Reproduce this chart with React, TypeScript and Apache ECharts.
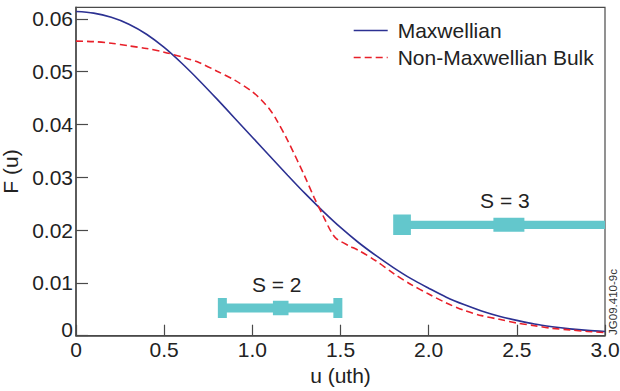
import React, { useEffect, useRef } from 'react';
import * as echarts from 'echarts';

// ---------- data ----------
const maxwellU = [0, 0.1, 0.2, 0.3, 0.4, 0.5, 0.6, 0.7, 0.8, 0.9, 1.0, 1.1, 1.2, 1.3, 1.4, 1.5, 1.6, 1.7, 1.8, 1.9, 2.0, 2.1, 2.2, 2.3, 2.4, 2.5, 2.6, 2.7, 2.8, 2.9, 3.0];
const maxwellF = [0.0614, 0.0611, 0.0603, 0.059, 0.0571, 0.0546, 0.0516, 0.0483, 0.0448, 0.0412, 0.0376, 0.034, 0.0304, 0.0269, 0.0236, 0.0205, 0.0177, 0.0152, 0.0129, 0.0108, 0.009, 0.0073, 0.0059, 0.0047, 0.0037, 0.0029, 0.0022, 0.0017, 0.0013, 0.001, 0.0008];

const bulkU = [0, 0.1, 0.2, 0.3, 0.4, 0.5, 0.6, 0.7, 0.8, 0.9, 1.0, 1.05, 1.1, 1.13, 1.2, 1.3, 1.35, 1.4, 1.45, 1.48, 1.55, 1.6, 1.7, 1.8, 1.9, 2.0, 2.1, 2.2, 2.3, 2.4, 2.5, 2.6, 2.7, 2.8, 2.9, 3.0];
const bulkF = [0.0558, 0.0557, 0.0554, 0.0549, 0.0544, 0.0537, 0.0528, 0.0517, 0.0501, 0.0484, 0.0462, 0.0447, 0.0428, 0.0413, 0.037, 0.03, 0.0262, 0.0228, 0.0195, 0.0183, 0.017, 0.0162, 0.0142, 0.0118, 0.0097, 0.0079, 0.0062, 0.0048, 0.0038, 0.0031, 0.0024, 0.0019, 0.0014, 0.0011, 0.0008, 0.0006];

const errCenters = [1.161, 2.455];
const errValues = [0.00525, 0.021];
const errLow = [0.83, 1.849];
const errHigh = [1.485, 3.06];
const errLabels = ['S = 2', 'S = 3'];

const xTickLabels = ['0', '0.5', '1.0', '1.5', '2.0', '2.5', '3.0'];
const yTickLabels = ['0', '0.01', '0.02', '0.03', '0.04', '0.05', '0.06'];

const seriesNames = ['Maxwellian', 'Non-Maxwellian Bulk'];

// ---------- styles ----------
const FONT = '"Liberation Sans", Arial, Helvetica, sans-serif';
const TEAL = '#63c7cc';
const AXIS = '#4a4a4a';
const errStyles = [
  { cap: 9, capH: 20, bar: 9, barDy: 0, midW: 15.6, midH: 14.7, labelDx: -4, labelDy: -23 },
  { cap: 17.7, capH: 20.5, bar: 8.3, barDy: 0, midW: 31, midH: 14, labelDx: -4, labelDy: -24.5 },
];

export default function App() {
  const ref = useRef<HTMLDivElement>(null);

  useEffect(() => {
    if (!ref.current) return;
    const chart = echarts.init(ref.current, undefined, { renderer: 'svg' });

    const option: any = {
      animation: false,
      backgroundColor: '#ffffff',
      textStyle: { fontFamily: FONT },
      grid: {
        left: 76,
        right: 15,
        top: 7.3,
        bottom: 55.3,
        containLabel: false,
        outerBoundsMode: 'none',
        show: true,
        borderColor: AXIS,
        borderWidth: 1.2,
        backgroundColor: 'transparent',
      },
      legend: {
        orient: 'vertical',
        left: 353,
        top: 20,
        padding: 0,
        itemWidth: 34,
        itemHeight: 14,
        itemGap: 6,
        data: seriesNames,
        itemStyle: { opacity: 0 },
        lineStyle: { width: 1.4 },
        textStyle: { fontSize: 21, lineHeight: 21, color: '#222', fontFamily: FONT, padding: [0, 0, 0, 5] },
      },
      xAxis: {
        type: 'value',
        min: 0,
        max: 3,
        interval: 0.5,
        name: 'u (uth)',
        nameLocation: 'middle',
        nameGap: 27,
        nameTextStyle: { fontSize: 21, color: '#222', fontFamily: FONT },
        axisLine: { show: true, lineStyle: { color: AXIS, width: 1.5 } },
        axisTick: { show: true, inside: true, length: 11, lineStyle: { color: AXIS, width: 1.2 } },
        axisLabel: {
          fontSize: 21,
          color: '#222',
          margin: 3,
          fontFamily: FONT,
          formatter: (v: number) => xTickLabels[Math.round(v / 0.5)] ?? '',
        },
        splitLine: { show: false },
      },
      yAxis: {
        type: 'value',
        min: 0,
        max: 0.0622,
        interval: 0.01,
        name: 'F (u)',
        nameLocation: 'middle',
        nameGap: 53,
        nameTextStyle: { fontSize: 21, color: '#222', fontFamily: FONT },
        axisLine: { show: true, lineStyle: { color: AXIS, width: 1.5 } },
        axisTick: { show: true, inside: true, length: 12, lineStyle: { color: AXIS, width: 1.2 } },
        axisLabel: {
          fontSize: 21,
          color: '#222',
          margin: 3,
          fontFamily: FONT,
          showMaxLabel: false,
          rich: {
            z: { fontSize: 21, color: '#222', fontFamily: FONT, padding: [0, 0, 12, 0] },
          },
          formatter: (v: number) => {
            const k = Math.round(v / 0.01);
            if (Math.abs(v - k * 0.01) > 1e-6) return '';
            const t = yTickLabels[k] ?? '';
            return k === 0 ? '{z|' + t + '}' : t;
          },
        },
        splitLine: { show: false },
      },
      series: [
        {
          name: seriesNames[0],
          type: 'line',
          symbol: 'none',
          smooth: 0.3,
          data: maxwellU.map((u, i) => [u, maxwellF[i]]),
          lineStyle: { color: '#2c3192', width: 1.6 },
          itemStyle: { color: '#2c3192' },
          z: 3,
        },
        {
          name: seriesNames[1],
          type: 'line',
          symbol: 'none',
          smooth: 0.3,
          data: bulkU.map((u, i) => [u, bulkF[i]]),
          lineStyle: { color: '#e8202a', width: 1.6, type: [7, 4] },
          itemStyle: { color: '#e8202a' },
          z: 4,
        },
        {
          type: 'custom',
          clip: true,
          silent: true,
          z: 2,
          data: errCenters.map((c, i) => [c, errValues[i], errLow[i], errHigh[i]]),
          renderItem: (params: any, api: any) => {
            const i = params.dataIndex;
            const st = errStyles[i];
            const y = api.value(1);
            const c = api.coord([api.value(0), y]);
            const lo = api.coord([api.value(2), y]);
            const hi = api.coord([api.value(3), y]);
            const cs = params.coordSys;
            const right = cs.x + cs.width;
            const barEnd = Math.min(hi[0], right);
            const fill = { fill: TEAL };
            const children: any[] = [
              {
                type: 'rect',
                shape: { x: lo[0], y: c[1] + st.barDy - st.bar / 2, width: barEnd - lo[0], height: st.bar },
                style: fill,
              },
              {
                type: 'rect',
                shape: { x: lo[0] - st.cap / 2, y: c[1] - st.capH / 2, width: st.cap, height: st.capH },
                style: fill,
              },
              {
                type: 'rect',
                shape: { x: c[0] - st.midW / 2, y: c[1] - st.midH / 2, width: st.midW, height: st.midH },
                style: fill,
              },
              {
                type: 'text',
                x: c[0] + st.labelDx,
                y: c[1] + st.labelDy,
                style: {
                  text: errLabels[i],
                  fill: '#222',
                  fontSize: 21,
                  fontFamily: FONT,
                  align: 'center',
                  textAlign: 'center',
                  verticalAlign: 'middle',
                  textVerticalAlign: 'middle',
                },
              },
            ];
            if (hi[0] <= right) {
              children.push({
                type: 'rect',
                shape: { x: hi[0] - st.cap / 2, y: c[1] - st.capH / 2, width: st.cap, height: st.capH },
                style: fill,
              });
            }
            return { type: 'group', children };
          },
        },
      ],
      graphic: [
        {
          type: 'text',
          x: 613,
          y: 302,
          rotation: Math.PI / 2,
          style: {
            text: 'JG09.410-9c',
            fill: '#333',
            fontSize: 11.5,
            fontFamily: FONT,
            align: 'center',
            textAlign: 'center',
            verticalAlign: 'middle',
            textVerticalAlign: 'middle',
          },
        },
      ],
    };

    chart.setOption(option);
    return () => chart.dispose();
  }, []);

  return (
    <div
      ref={ref}
      style={{ position: 'absolute', left: 0, top: 0, width: 620, height: 391, background: '#fff' }}
    />
  );
}
